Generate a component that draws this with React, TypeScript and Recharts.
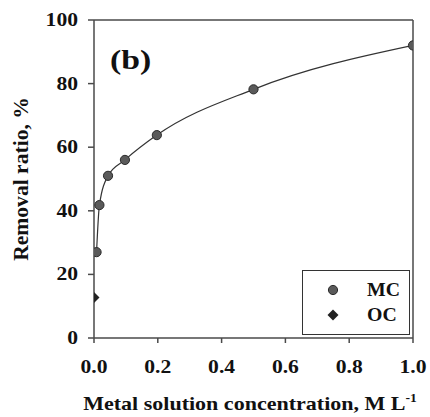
import { ComposedChart, Line, Scatter, XAxis, YAxis, ReferenceLine } from "recharts"

// metal solution concentration (M/L) vs removal ratio (%)
const mcConc = [0.008, 0.017, 0.044, 0.097, 0.197, 0.5, 1.0]
const mcRemoval = [27, 41.8, 51, 56, 63.8, 78.2, 92]
const ocConc = [0.0]
const ocRemoval = [12.7]
const xTicks = [0, 0.2, 0.4, 0.6, 0.8, 1.0]
const yTicks = [0, 20, 40, 60, 80, 100]

const FONT = "'Liberation Serif', 'Times New Roman', serif"
const AXIS = "#4a4a4a"
const X_TICK_BASELINE = 373

const mcData = mcConc.map((x, i) => ({ x, y: mcRemoval[i] }))
const ocData = ocConc.map((x, i) => ({ x, y: ocRemoval[i] }))

// bold serif text, a bit wider than Liberation Serif like the original
const WideText = ({ tx, ty, size, sx = 1.15, anchor = "start", rotate = 0, children }: any) => (
  <text
    transform={`translate(${tx},${ty}) rotate(${rotate}) scale(${sx},1)`}
    textAnchor={anchor}
    fontFamily={FONT}
    fontWeight="bold"
    fontSize={size}
    fill="#111"
  >
    {children}
  </text>
)

const XTick = (props: any) => {
  const { x, payload } = props
  return (
    <WideText tx={Number(x)} ty={X_TICK_BASELINE} size={18} sx={1.2} anchor="middle">
      {Number(payload.value).toFixed(1)}
    </WideText>
  )
}

const YTick = (props: any) => {
  const { x, y, payload } = props
  return (
    <WideText tx={Number(x)} ty={Number(y) + 6} size={18} sx={1.2} anchor="end">
      {payload.value}
    </WideText>
  )
}

const CircleDot = (props: any) => {
  const { cx, cy } = props
  if (cx == null || cy == null) return null
  return <circle cx={cx} cy={cy} r={4.6} fill="#5a5a5a" stroke="#2a2a2a" strokeWidth={1} />
}

const Diamond = (props: any) => {
  const { cx, cy } = props
  if (cx == null || cy == null) return null
  const s = 5.5
  return <path d={`M${cx},${cy - s}L${cx + s},${cy}L${cx},${cy + s}L${cx - s},${cy}Z`} fill="#222" />
}

export default function App() {
  return (
    <div style={{ position: "absolute", left: 0, top: 0, background: "#fff" }}>
      <ComposedChart width={430} height={417} margin={{ top: 20, right: 17, left: 0, bottom: 0 }}>
        <XAxis
          xAxisId="b"
          type="number"
          dataKey="x"
          domain={[0, 1]}
          ticks={xTicks}
          height={79}
          stroke={AXIS}
          strokeWidth={1.5}
          tickSize={5}
          tickMargin={8}
          tick={(p: any) => <XTick {...p} />}
          allowDataOverflow
        />
        <YAxis
          yAxisId="l"
          type="number"
          domain={[0, 100]}
          ticks={yTicks}
          width={94}
          stroke={AXIS}
          strokeWidth={1.5}
          tickSize={6}
          tickMargin={10}
          tick={(p: any) => <YTick {...p} />}
        />
        <ReferenceLine xAxisId="b" yAxisId="l" y={100} stroke={AXIS} strokeWidth={1.5} />
        <ReferenceLine xAxisId="b" yAxisId="l" x={1} stroke={AXIS} strokeWidth={1.5} />
        <Line
          xAxisId="b"
          yAxisId="l"
          data={mcData}
          dataKey="y"
          type="monotone"
          stroke="#333"
          strokeWidth={1.2}
          dot={<CircleDot />}
          activeDot={false}
          isAnimationActive={false}
          legendType="none"
        />
        <Scatter
          xAxisId="b"
          yAxisId="l"
          data={ocData}
          dataKey="y"
          shape={<Diamond />}
          isAnimationActive={false}
          legendType="none"
        />
        {/* legend */}
        <rect x={302.5} y={270.5} width={107} height={64} fill="#fff" stroke="#333" strokeWidth={1} />
        <circle cx={333} cy={290} r={4.6} fill="#5a5a5a" stroke="#2a2a2a" strokeWidth={1} />
        <WideText tx={367} ty={296} size={18} sx={1.1}>MC</WideText>
        <path d="M333,309.5L338.5,315L333,320.5L327.5,315Z" fill="#222" />
        <WideText tx={367} ty={321} size={18} sx={1.1}>OC</WideText>
        <WideText tx={110} ty={69} size={27} sx={1.25}>(b)</WideText>
        <WideText tx={28} ty={179} size={20} sx={1.08} anchor="middle" rotate={-90}>
          Removal ratio, %
        </WideText>
        <WideText tx={250} ty={410} size={19.5} sx={1.13} anchor="middle">
          Metal solution concentration, M L<tspan dy={-8} fontSize={12}>-1</tspan>
        </WideText>
      </ComposedChart>
    </div>
  )
}
